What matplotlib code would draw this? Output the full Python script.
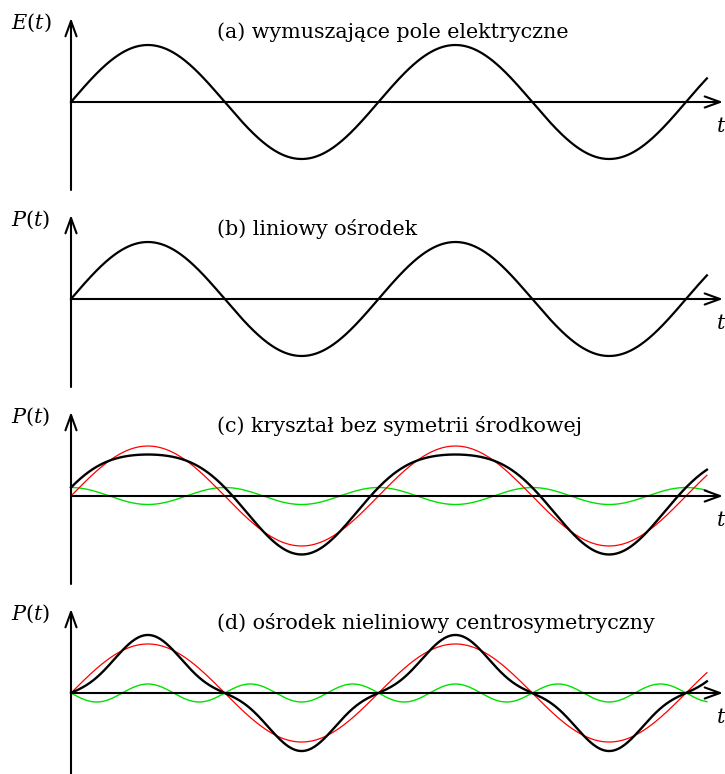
import numpy as np
import matplotlib
matplotlib.use("Agg")
import matplotlib.pyplot as plt

# ---- data -------------------------------------------------------------
titles = ["(a) wymuszające pole elektryczne",
          "(b) liniowy ośrodek",
          "(c) kryształ bez symetrii środkowej",
          "(d) ośrodek nieliniowy centrosymetryczny"]
ylabels = [r"$E(t)$", r"$P(t)$", r"$P(t)$", r"$P(t)$"]
x_label = r"$t$"
# fundamental (red in c,d) amplitude, relative to the driving field
fund_amp = [1.0, 1.0, 0.877, 0.86]
# harmonic (green) amplitude, order and phase type
harm_amp = [0.0, 0.0, 0.149, 0.158]
harm_order = [0, 0, 2, 3]
harm_kind = ["none", "none", "cos", "-sin"]
t_end = 2.068          # periods drawn

# ---- layout -----------------------------------------------------------
W, H, DPI = 725, 774, 100
X0, PER = 71.0, 307.5           # px of origin, px per period
AMP = 57.0                      # px per unit amplitude
zeros_px = [102, 299, 496, 693]

plt.rcParams["mathtext.fontset"] = "dejavuserif"
plt.rcParams["font.family"] = "DejaVu Serif"

fig = plt.figure(figsize=(W / DPI, H / DPI), dpi=DPI)

t = np.linspace(0, t_end, 1200)
w = 2 * np.pi

for k in range(4):
    z = zeros_px[k]
    top, bot = z - 100, z + 97
    ax = fig.add_axes([0, 1 - bot / H, 1, (bot - top) / H])
    ax.set_xlim(-X0 / PER, (W - X0) / PER)
    ax.set_ylim(-97 / AMP, 100 / AMP)
    ax.axis("off")

    fund = fund_amp[k] * np.sin(w * t)
    if harm_kind[k] == "cos":
        harm = harm_amp[k] * np.cos(harm_order[k] * w * t)
    elif harm_kind[k] == "-sin":
        harm = -harm_amp[k] * np.sin(harm_order[k] * w * t)
    else:
        harm = None

    # axes arrows
    arrow = dict(arrowstyle="->,head_length=0.55,head_width=0.2",
                 lw=1.5, color="black", mutation_scale=20,
                 shrinkA=0, shrinkB=0)
    ax.annotate("", xy=(0, 84 / AMP), xytext=(0, -88 / AMP),
                arrowprops=arrow, annotation_clip=False)
    ax.annotate("", xy=((W - X0 - 2) / PER, 0), xytext=(0, 0),
                arrowprops=arrow, annotation_clip=False)

    if harm is not None:
        ax.plot(t, harm, color="#00e000", lw=1.0, clip_on=False)
        ax.plot(t, fund, color="#ff0000", lw=0.9, clip_on=False)
        ax.plot(t, fund + harm, color="black", lw=1.7, clip_on=False)
    else:
        ax.plot(t, fund, color="black", lw=1.6, clip_on=False)

    ax.text((11 - X0) / PER, 73 / AMP, ylabels[k], fontsize=15,
            ha="left", va="baseline")
    ax.text((217 - X0) / PER, 64 / AMP, titles[k], fontsize=14.9,
            ha="left", va="baseline")
    ax.text((716 - X0) / PER, -30 / AMP, x_label, fontsize=15,
            ha="left", va="baseline")

fig.savefig("out.png", dpi=DPI)
